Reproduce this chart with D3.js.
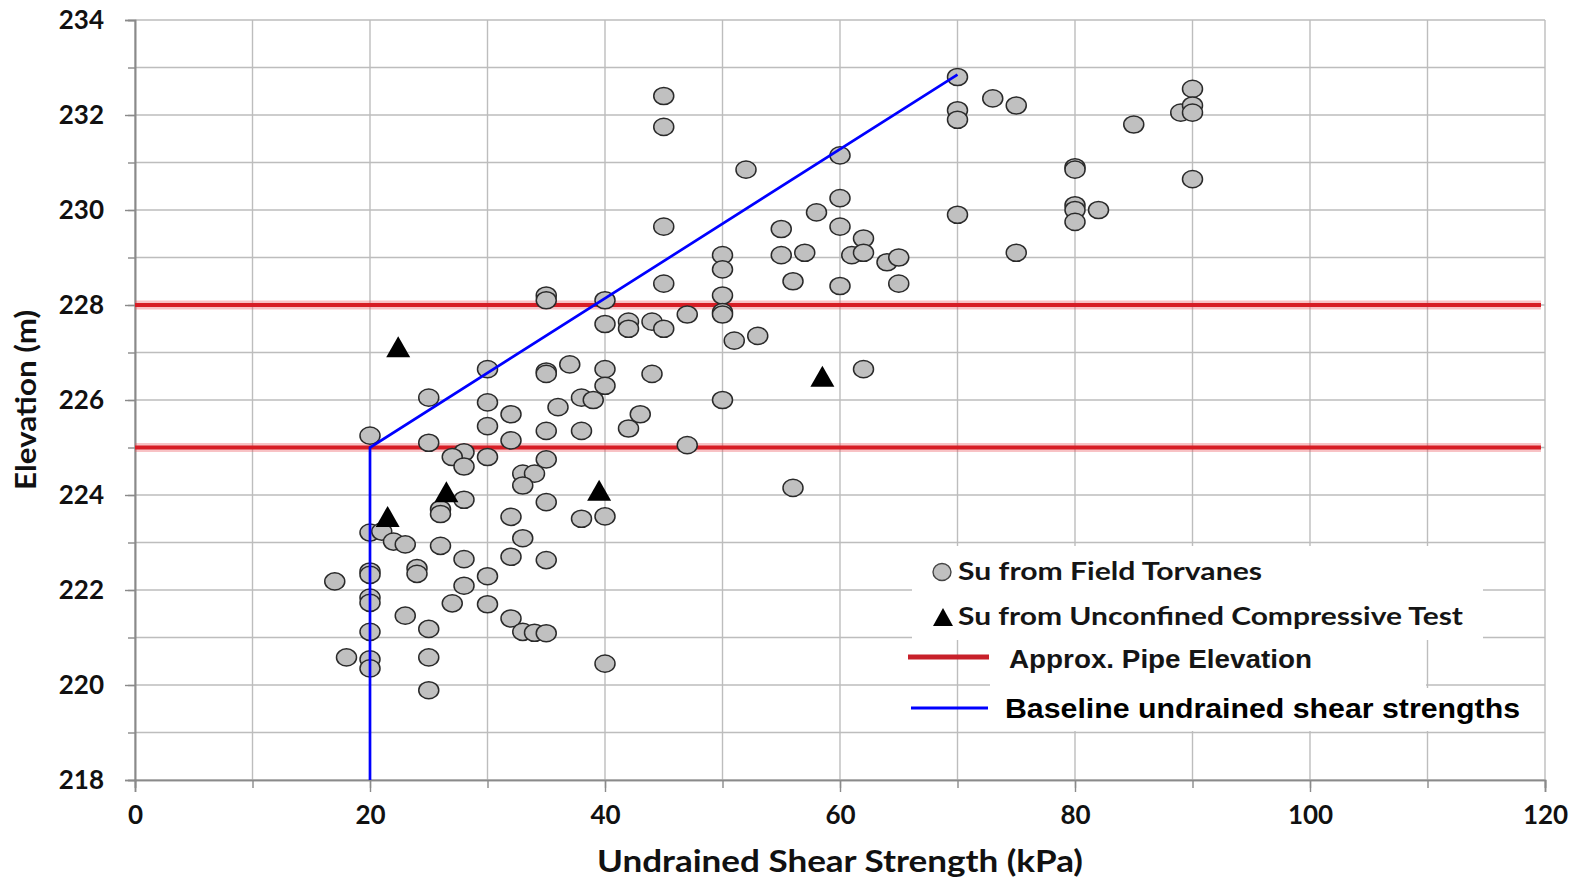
<!DOCTYPE html>
<html>
<head>
<meta charset="utf-8">
<script src="https://cdn.jsdelivr.net/npm/d3@7"></script>
<style>
  html, body { margin: 0; padding: 0; background: #fff; }
  svg { display: block; }
</style>
</head>
<body>
<svg id="chart" width="1576" height="883"></svg>
<script>
// ---------- DATA ----------
const torvaneSu = [
  45,45,52,60,70,70,70,73,75,85,89,90,90,90,90,80,80,80,80,80,82,70,75,45,58,60,60,55,57,55,
  62,61,62,64,65,65,60,56,50,50,50,50,50,45,40,35,35,47,53,51,40,42,42,44,45,37,40,35,35,30,
  25,40,38,39,44,62,50,36,30,32,43,42,30,35,38,32,20,25,47,28,27,30,35,28,33,34,33,56,28,35,
  26,26,32,38,40,20,21,22,23,33,26,28,32,35,24,24,20,20,17,30,28,20,20,27,30,23,32,25,20,33,
  34,35,18,25,20,20,40,25
];
const torvaneElev = [
  232.4,231.75,230.85,231.15,232.8,232.1,231.9,232.35,232.2,231.8,232.05,232.55,232.2,232.05,230.65,230.9,230.85,230.1,230.0,229.75,230.0,229.9,229.1,229.65,229.95,230.25,229.65,229.6,229.1,229.05,
  229.4,229.05,229.1,228.9,229.0,228.45,228.4,228.5,229.05,228.75,228.2,227.85,227.8,228.45,228.1,228.2,228.1,227.8,227.35,227.25,227.6,227.65,227.5,227.65,227.5,226.75,226.65,226.6,226.55,226.65,
  226.05,226.3,226.05,226.0,226.55,226.65,226.0,225.85,225.95,225.7,225.7,225.4,225.45,225.35,225.35,225.15,225.25,225.1,225.05,224.9,224.8,224.8,224.75,224.6,224.45,224.45,224.2,224.15,223.9,223.85,
  223.7,223.6,223.54,223.5,223.55,223.21,223.23,223.02,222.96,223.09,222.93,222.65,222.7,222.63,222.46,222.34,222.39,222.32,222.18,222.29,222.09,221.84,221.73,221.72,221.7,221.46,221.4,221.18,221.12,221.12,
  221.1,221.09,220.58,220.58,220.54,220.35,220.45,219.89
];
const ucsSu   = [22.4, 21.5, 26.5, 39.5, 58.5];
const ucsElev = [227.12, 223.55, 224.07, 224.1, 226.5];
const pipeElev = [228, 225];
const baselineSu   = [20, 20, 70];
const baselineElev = [218, 225, 232.85];
const xTicks = [0, 20, 40, 60, 80, 100, 120];
const yTicks = [218, 220, 222, 224, 226, 228, 230, 232, 234];
const xMinor = d3.range(0, 121, 10);
const yMinor = d3.range(218, 235, 1);
const legendLabels = [
  "Su from Field Torvanes",
  "Su from Unconfined Compressive Test",
  "Approx. Pipe Elevation",
  "Baseline undrained shear strengths"
];
const xTitle = "Undrained Shear Strength (kPa)";
const yTitle = "Elevation (m)";

// ---------- LAYOUT ----------
const svg = d3.select("#chart");
const L = 135, R = 1545, T = 20, B = 780;
const x = d3.scaleLinear().domain([0, 120]).range([L, R]);
const y = d3.scaleLinear().domain([218, 234]).range([B, T]);
const gridColor = "#bdbdbd";
const axisColor = "#8a8a8a";
const labelFont = "Lato, 'Open Sans', sans-serif";

// grid
const grid = svg.append("g");
grid.selectAll("line.v").data(xMinor).join("line")
  .attr("x1", d => x(d)).attr("x2", d => x(d))
  .attr("y1", T).attr("y2", B)
  .attr("stroke", gridColor).attr("stroke-width", 1.4);
grid.selectAll("line.h").data(yMinor).join("line")
  .attr("x1", L).attr("x2", R)
  .attr("y1", d => y(d)).attr("y2", d => y(d))
  .attr("stroke", gridColor).attr("stroke-width", 1.4);

// axes: minor ticks
const yMinorAxis = svg.append("g").attr("transform", `translate(${L},0)`)
  .call(d3.axisLeft(y).tickValues(yMinor).tickSize(7).tickFormat(""));
const xMinorAxis = svg.append("g").attr("transform", `translate(0,${B})`)
  .call(d3.axisBottom(x).tickValues(xMinor).tickSize(8).tickFormat(""));
// major ticks with labels
const yAxis = svg.append("g").attr("transform", `translate(${L},0)`)
  .call(d3.axisLeft(y).tickValues(yTicks).tickSize(10).tickPadding(21).tickFormat(d3.format("d")));
const xAxis = svg.append("g").attr("transform", `translate(0,${B})`)
  .call(d3.axisBottom(x).tickValues(xTicks).tickSize(12).tickFormat(d3.format("d")));
[yMinorAxis, xMinorAxis, yAxis, xAxis].forEach(g => {
  g.select(".domain").attr("stroke", axisColor).attr("stroke-width", 1.6);
  g.selectAll(".tick line").attr("stroke", axisColor).attr("stroke-width", 1.4);
});
yAxis.selectAll("text")
  .attr("font-family", labelFont).attr("font-weight", 700).attr("font-size", 26)
  .attr("fill", "#111");
xAxis.selectAll("text")
  .attr("font-family", labelFont).attr("font-weight", 700).attr("font-size", 26)
  .attr("fill", "#111").attr("y", 44).attr("dy", 0);

// axis titles
svg.append("text")
  .attr("transform", `translate(36,${(T + B) / 2}) rotate(-90)`)
  .attr("text-anchor", "middle")
  .attr("font-family", labelFont).attr("font-weight", 700).attr("font-size", 28)
  .attr("fill", "#111")
  .attr("textLength", 180).attr("lengthAdjust", "spacingAndGlyphs")
  .text(yTitle);
svg.append("text")
  .attr("x", x(60)).attr("y", 872)
  .attr("text-anchor", "middle")
  .attr("font-family", labelFont).attr("font-weight", 700).attr("font-size", 30)
  .attr("fill", "#111")
  .attr("textLength", 486).attr("lengthAdjust", "spacingAndGlyphs")
  .text(xTitle);

// pipe elevation lines
const pipes = svg.append("g");
pipes.selectAll("line.halo").data(pipeElev).join("line")
  .attr("x1", L).attr("x2", 1541)
  .attr("y1", d => y(d)).attr("y2", d => y(d))
  .attr("stroke", "rgba(235,80,90,0.35)").attr("stroke-width", 9);
pipes.selectAll("line.main").data(pipeElev).join("line")
  .attr("x1", L).attr("x2", 1541)
  .attr("y1", d => y(d)).attr("y2", d => y(d))
  .attr("stroke", "#d71d25").attr("stroke-width", 4.2);

// torvane markers
const pts = torvaneSu.map((s, i) => [s, torvaneElev[i]]);
svg.append("g").selectAll("ellipse").data(pts).join("ellipse")
  .attr("cx", d => x(d[0])).attr("cy", d => y(d[1]))
  .attr("rx", 10).attr("ry", 8.6)
  .attr("fill", "#c0c0c0").attr("stroke", "#2a2a2a").attr("stroke-width", 1.5);

// baseline line
const line = d3.line().x(d => x(d[0])).y(d => y(d[1]));
svg.append("path")
  .datum(baselineSu.map((s, i) => [s, baselineElev[i]]))
  .attr("d", line).attr("fill", "none")
  .attr("stroke", "#0000ff").attr("stroke-width", 2.7);

// UCS triangles
const tri = (cx, cy, w, h) => `M${cx},${cy - h / 2}L${cx + w / 2},${cy + h / 2}L${cx - w / 2},${cy + h / 2}Z`;
svg.append("g").selectAll("path").data(ucsSu.map((s, i) => [s, ucsElev[i]])).join("path")
  .attr("d", d => tri(x(d[0]), y(d[1]), 24, 21))
  .attr("fill", "#000");

// ---------- LEGEND ----------
const lg = svg.append("g");
lg.append("rect").attr("x", 912).attr("y", 546).attr("width", 571).attr("height", 94).attr("fill", "#fff");
lg.append("rect").attr("x", 990).attr("y", 639).attr("width", 436).attr("height", 49).attr("fill", "#fff");
lg.append("rect").attr("x", 990).attr("y", 688).attr("width", 550).attr("height", 43).attr("fill", "#fff");

lg.append("ellipse").attr("cx", 942).attr("cy", 572).attr("rx", 9).attr("ry", 8.5)
  .attr("fill", "#c0c0c0").attr("stroke", "#444").attr("stroke-width", 1.4);
lg.append("path").attr("d", tri(943, 617, 20, 18)).attr("fill", "#000");
lg.append("line").attr("x1", 908).attr("x2", 989).attr("y1", 657).attr("y2", 657)
  .attr("stroke", "#c8202a").attr("stroke-width", 5);
lg.append("line").attr("x1", 911).attr("x2", 988).attr("y1", 708).attr("y2", 708)
  .attr("stroke", "#0000ff").attr("stroke-width", 3);

const legendSpecs = [
  {x: 958, y: 580, len: 304, font: labelFont, size: 25, weight: 700},
  {x: 958, y: 625, len: 505, font: labelFont, size: 25, weight: 700},
  {x: 1009, y: 668, len: 303, font: "'Liberation Sans', Arial, sans-serif", size: 25, weight: 700},
  {x: 1005, y: 718, len: 515, font: "'Liberation Sans', Arial, sans-serif", size: 27, weight: 700}
];
legendSpecs.forEach((s, i) => {
  lg.append("text")
    .attr("x", s.x).attr("y", s.y)
    .attr("font-family", s.font).attr("font-weight", s.weight).attr("font-size", s.size)
    .attr("fill", i === 3 ? "#000" : "#151515")
    .attr("textLength", s.len).attr("lengthAdjust", "spacingAndGlyphs")
    .text(legendLabels[i]);
});
</script>
</body>
</html>
